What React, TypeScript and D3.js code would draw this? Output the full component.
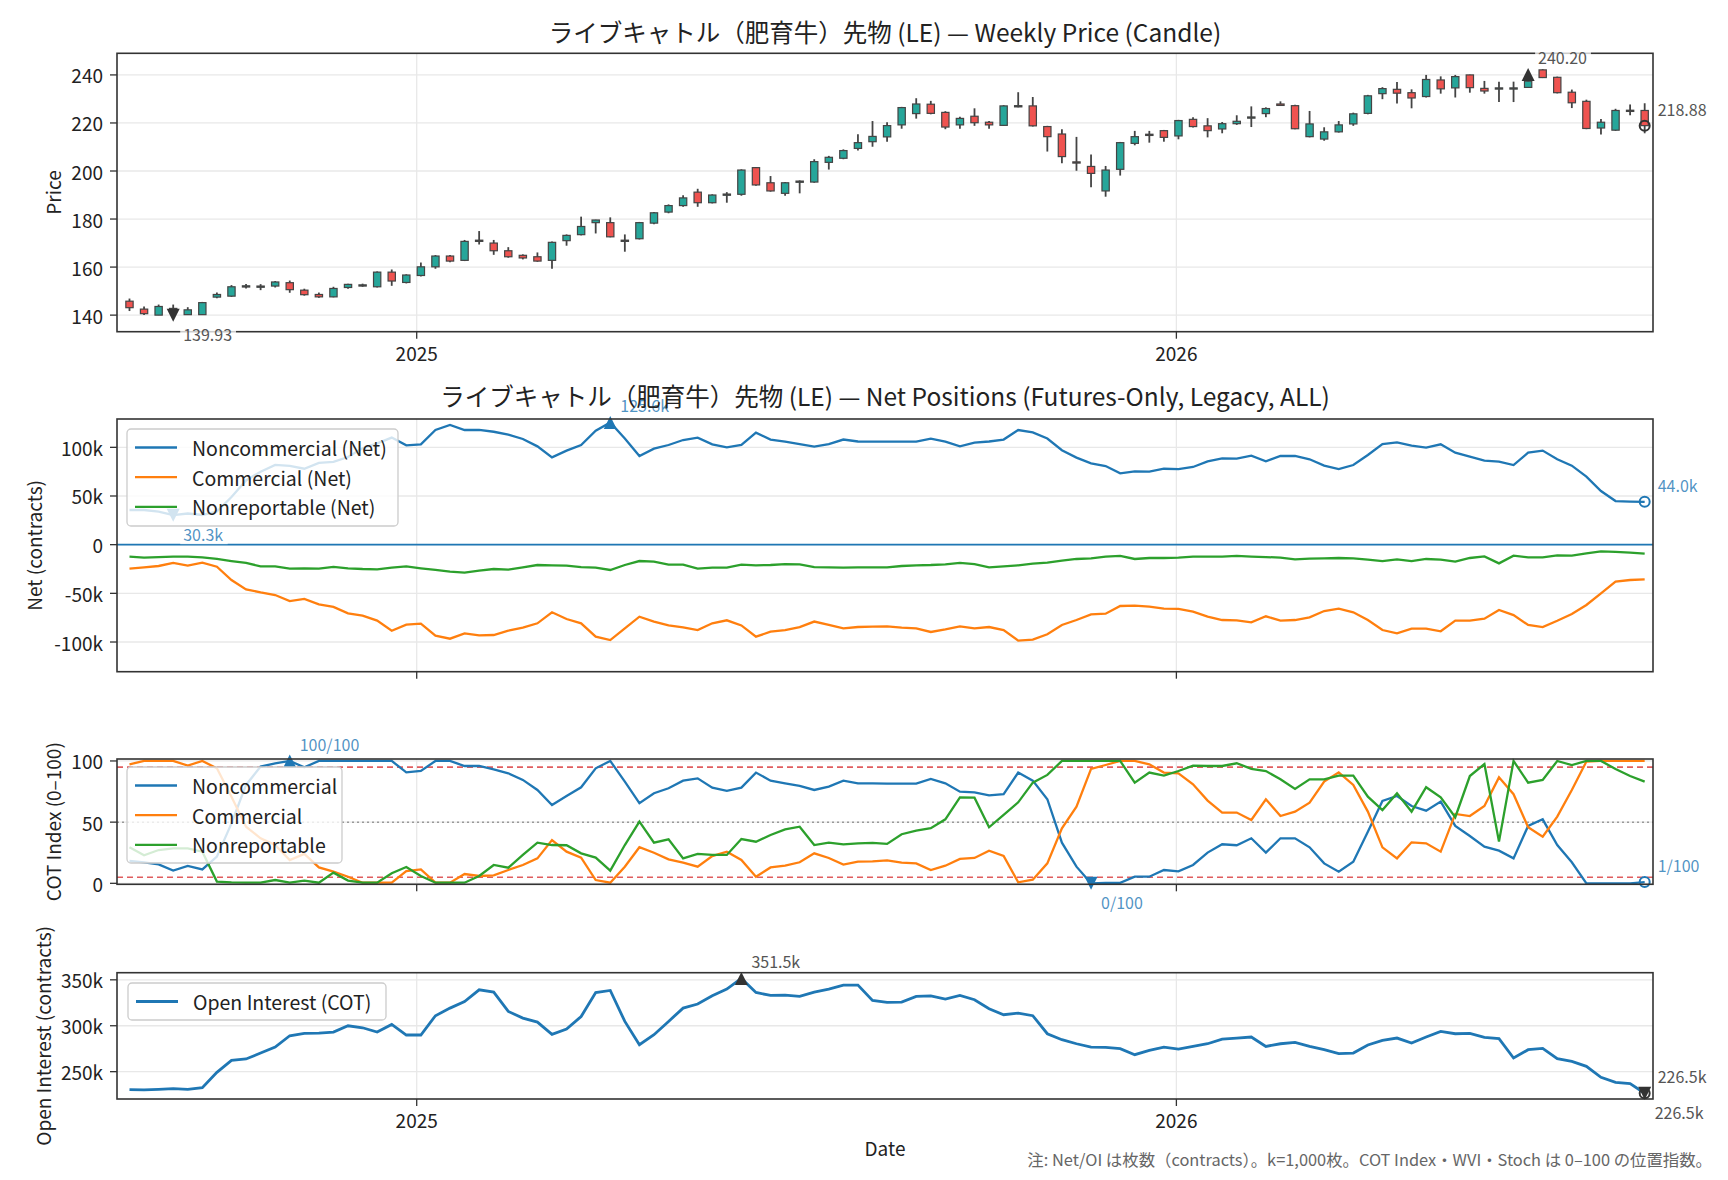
import React from 'react';
import * as d3 from 'd3';

const W = 1728;
const H = 1180;
const FONT = "'Noto Sans CJK JP', 'Noto Sans', sans-serif";

// weekly bars, first week ending 2024-08-16
const START = Date.UTC(2024, 7, 16);
const WEEK = 7 * 864e5;

const open = [145.8, 142.5, 140.0, 142.8, 140.2, 140.2, 147.5, 147.9, 152.0, 152.0,
  152.1, 153.5, 150.4, 148.6, 147.6, 151.5, 152.4, 151.8, 157.9, 153.6,
  156.5, 160.1, 164.6, 162.8, 170.8, 170.0, 166.8, 164.9, 164.3, 162.8,
  171.0, 173.5, 178.5, 178.5, 171.0, 171.8, 178.3, 182.9, 185.6, 191.2,
  186.8, 189.9, 190.3, 201.4, 195.1, 190.7, 195.6, 195.4, 203.6, 205.3,
  209.4, 212.2, 214.2, 219.2, 223.9, 227.8, 224.4, 219.2, 222.8, 220.3,
  219.0, 227.0, 227.1, 218.5, 215.4, 203.8, 201.9, 191.7, 200.7, 211.5,
  215.0, 216.8, 214.6, 221.5, 218.8, 217.5, 219.7, 222.3, 223.9, 227.9,
  227.2, 214.3, 213.3, 216.3, 219.6, 224.0, 232.2, 234.0, 232.6, 231.0,
  237.9, 234.6, 240.0, 234.4, 234.4, 234.5, 234.8, 242.1, 239.0, 232.8,
  229.0, 217.9, 217.0, 225.0, 225.2];
const high = [146.9, 143.6, 144.4, 144.4, 143.3, 145.5, 149.4, 152.5, 153.0, 152.9,
  154.2, 154.4, 151.0, 149.4, 151.8, 153.1, 153.1, 158.2, 159.0, 157.0,
  161.9, 165.0, 165.0, 171.3, 175.0, 171.3, 168.3, 165.3, 166.1, 170.7,
  173.6, 181.0, 179.7, 180.7, 173.6, 178.8, 182.9, 186.1, 189.9, 192.6,
  190.3, 191.2, 200.7, 201.7, 197.9, 195.4, 196.1, 204.9, 206.3, 209.0,
  215.3, 220.8, 220.3, 226.7, 230.3, 229.2, 224.9, 222.6, 226.1, 220.8,
  227.4, 232.8, 230.8, 218.8, 217.4, 214.2, 206.9, 202.1, 212.1, 216.7,
  216.7, 217.1, 221.3, 222.4, 222.0, 220.4, 223.2, 226.9, 226.5, 229.0,
  227.6, 225.0, 218.2, 220.8, 224.3, 231.7, 234.9, 237.1, 234.0, 240.0,
  239.4, 240.0, 240.1, 237.5, 237.2, 237.2, 240.2, 242.4, 239.3, 233.9,
  229.7, 221.6, 225.9, 227.7, 228.2];
const low = [141.7, 140.1, 140.0, 139.93, 140.1, 140.1, 147.0, 147.6, 151.1, 150.4,
  151.5, 149.3, 148.1, 147.2, 147.4, 151.0, 151.8, 151.5, 152.2, 153.2,
  156.1, 159.3, 162.0, 162.5, 169.4, 165.1, 163.9, 163.2, 162.2, 159.3,
  168.9, 173.2, 174.0, 172.4, 166.4, 171.5, 177.8, 182.4, 185.1, 185.1,
  186.5, 186.8, 189.7, 193.9, 191.4, 189.7, 190.7, 195.1, 200.6, 204.9,
  208.5, 210.1, 212.2, 217.6, 221.8, 223.6, 217.4, 217.6, 218.8, 217.6,
  218.8, 226.5, 218.5, 208.1, 203.2, 200.1, 193.2, 189.3, 198.1, 210.7,
  211.8, 212.2, 213.2, 218.1, 214.0, 215.7, 219.2, 218.3, 222.4, 227.2,
  217.4, 214.0, 212.6, 216.0, 218.8, 223.6, 229.9, 228.1, 226.1, 230.6,
  232.2, 230.6, 232.6, 232.2, 228.7, 228.7, 234.6, 238.7, 232.3, 226.2,
  217.4, 215.2, 216.7, 223.2, 215.7];
const close = [143.1, 140.6, 143.6, 141.4, 142.2, 145.2, 148.6, 151.8, 152.2, 152.1,
  153.8, 150.6, 148.5, 147.6, 151.1, 152.8, 152.6, 157.9, 154.2, 156.7,
  160.1, 164.6, 162.5, 170.7, 171.2, 166.8, 164.3, 163.8, 162.5, 170.3,
  173.2, 176.9, 179.6, 172.6, 171.2, 178.5, 182.6, 185.6, 188.8, 186.8,
  190.0, 190.4, 200.4, 194.2, 191.7, 195.1, 195.8, 203.9, 205.7, 208.5,
  211.8, 214.4, 218.9, 226.4, 227.9, 224.0, 218.3, 221.9, 220.1, 219.2,
  227.1, 227.2, 218.8, 214.3, 206.0, 203.4, 199.0, 200.4, 211.8, 214.3,
  215.3, 214.0, 221.0, 218.5, 216.8, 219.7, 220.7, 222.5, 226.0, 227.3,
  217.6, 219.6, 216.3, 219.2, 223.8, 231.3, 234.3, 232.4, 230.4, 238.1,
  234.2, 239.3, 234.7, 233.3, 234.6, 234.6, 237.4, 238.9, 232.6, 228.4,
  217.7, 220.3, 225.2, 225.3, 218.88];
// the annotated price extremes
const priceMin = { idx: 3, value: 139.93 };
const priceMax = { idx: 96, value: 240.2 };

// net positions, thousands of contracts
const ncNet = [35.6, 35.6, 34.0, 30.3, 32.0, 30.5, 34.0, 49.0, 66.0, 75.0,
  82.0, 81.0, 78.0, 84.0, 85.0, 90.0, 99.0, 104.0, 110.0, 102.0,
  103.0, 117.8, 123.0, 117.8, 118.0, 116.0, 113.0, 108.6, 101.0, 89.7,
  96.6, 102.4, 117.0, 125.6, 109.0, 91.0, 98.6, 102.4, 107.5, 110.0,
  103.0, 100.0, 102.4, 115.0, 108.0, 105.8, 103.4, 100.7, 103.4, 108.0,
  106.0, 105.8, 105.8, 105.8, 105.8, 109.0, 105.8, 101.0, 104.8, 106.0,
  108.0, 117.8, 115.4, 109.0, 97.0, 89.4, 83.6, 80.8, 73.3, 75.3,
  75.0, 78.0, 77.7, 79.8, 85.6, 88.7, 88.4, 91.4, 85.6, 91.1,
  91.1, 87.7, 81.2, 77.7, 81.8, 92.1, 103.4, 105.1, 101.7, 99.7,
  103.1, 94.5, 90.4, 86.3, 85.3, 81.8, 94.5, 96.6, 87.7, 81.2,
  69.9, 55.1, 44.8, 44.3, 44.0];
const cNet = [-24.7, -23.3, -21.9, -18.8, -21.6, -18.5, -22.6, -36.3, -45.9, -49.0,
  -51.7, -57.9, -55.8, -61.3, -64.0, -70.5, -73.0, -78.0, -88.4, -82.2,
  -81.2, -93.5, -96.6, -91.1, -93.2, -92.8, -88.4, -85.3, -80.8, -69.5,
  -76.4, -80.8, -94.5, -98.0, -86.0, -74.0, -79.0, -83.0, -85.0, -87.7,
  -80.8, -77.7, -83.0, -94.5, -89.4, -87.7, -84.6, -79.0, -82.5, -86.0,
  -84.6, -84.2, -83.9, -85.3, -86.0, -89.7, -87.0, -83.9, -86.0, -84.6,
  -87.7, -98.6, -97.6, -92.0, -82.5, -77.4, -71.6, -70.9, -63.0, -62.7,
  -63.7, -65.8, -66.0, -68.8, -74.0, -77.4, -77.7, -79.8, -73.6, -78.1,
  -77.4, -74.7, -68.2, -65.8, -69.5, -77.4, -87.7, -91.1, -86.3, -86.3,
  -89.0, -78.1, -78.1, -76.0, -67.1, -72.3, -82.5, -84.6, -78.1, -71.2,
  -62.0, -50.0, -38.0, -36.3, -35.6];
const nrNet = [-12.3, -13.4, -12.7, -12.3, -12.3, -13.0, -14.7, -16.8, -18.8, -22.3,
  -22.3, -24.7, -24.3, -24.7, -22.9, -24.3, -25.0, -25.3, -23.6, -22.3,
  -24.3, -26.0, -27.7, -28.8, -26.7, -25.0, -25.7, -23.3, -20.9, -21.2,
  -21.6, -23.0, -23.6, -26.0, -20.9, -16.8, -17.5, -20.5, -20.5, -24.7,
  -23.6, -23.6, -20.5, -21.2, -20.9, -19.9, -20.2, -23.0, -23.3, -23.6,
  -23.3, -23.3, -23.3, -21.9, -21.2, -20.9, -20.2, -18.8, -19.9, -23.3,
  -22.3, -21.2, -19.5, -18.5, -16.4, -14.7, -14.0, -12.3, -11.6, -14.7,
  -13.7, -13.7, -13.4, -12.3, -12.3, -12.3, -11.6, -12.3, -12.7, -13.4,
  -15.1, -14.4, -14.0, -13.7, -14.0, -15.4, -16.8, -15.1, -16.8, -14.7,
  -15.4, -17.5, -13.7, -12.0, -19.2, -11.3, -13.0, -13.0, -11.0, -11.3,
  -8.9, -6.8, -7.5, -8.2, -9.2];

// COT index 0-100
const ncIdx = [18.3, 17.2, 15.5, 10.4, 14.2, 11.4, 21.8, 49, 80.4, 95.4,
  98, 100, 94.8, 100, 100, 100, 100, 100, 100, 90.7,
  91.8, 100, 100, 95.9, 95.9, 93.2, 89.9, 84.5, 76.3, 64,
  71.4, 78.5, 94, 100, 83.1, 65.5, 73.6, 77.7, 83.9, 85.8,
  78.2, 75.5, 78.2, 90.5, 83.9, 81.7, 79.6, 76.3, 79, 83.9,
  81.7, 81.7, 81.5, 81.5, 81.5, 85.3, 81.7, 74.9, 74.4, 71.9,
  72.8, 90.5, 83.9, 68.7, 33.2, 13.6, 0, 0.4, 0.4, 5.4,
  5.4, 10.9, 9.8, 15, 25.1, 31.9, 31.1, 36.8, 25.1, 36.8,
  36.8, 29.4, 16.3, 9.5, 17.7, 42.2, 67.3, 71.4, 63.2, 59.4,
  66.8, 46.9, 38.7, 30, 26.7, 20.4, 46.9, 52.3, 31.3, 17.2,
  0, 0, 0, 0, 1];
const cIdx = [97.3, 100, 100, 100, 96.2, 100, 94, 70.8, 46.3, 36.8,
  31.3, 19, 24, 13, 9.5, 5.4, 0.5, 0.5, 0.5, 10,
  11.4, 0.5, 0.5, 7.6, 6, 6.5, 10.9, 15, 20.4, 35.4,
  25.9, 21, 2.7, 0.5, 13.6, 29.5, 25, 19.6, 16.9, 13.6,
  22.3, 25.9, 19.1, 5.4, 13, 14.4, 17.2, 24.5, 20.7, 15.3,
  17.7, 18, 18.8, 16.9, 16.3, 10.9, 14.4, 19.9, 20.7, 26.7,
  22.3, 0.8, 3, 16.3, 45, 62.7, 93.5, 96.7, 100, 100,
  97.3, 90.5, 89.9, 80.9, 67.6, 57.8, 57.8, 51.8, 68.7, 55,
  58.6, 65.9, 83.1, 90.7, 80.4, 58.6, 29.4, 20.4, 33.5, 32.7,
  25.9, 56.7, 55, 63.2, 86.6, 72.8, 45.8, 38.1, 54.5, 76.3,
  99.5, 100, 100, 100, 100];
const nrIdx = [29.4, 22.9, 27.2, 28.6, 28.6, 25.9, 1.4, 0.8, 0.5, 0.5,
  2.7, 0.5, 2.2, 0.5, 8.7, 2.2, 0.5, 0.5, 8.2, 13.4,
  6, 0.5, 0.5, 0.5, 6, 15, 12.8, 23.2, 33.2, 31.3,
  31.1, 24.5, 21, 10.4, 31.3, 50.4, 33.2, 35.9, 20.4, 24,
  23.2, 23.2, 36.2, 34, 39.5, 44.1, 46.3, 31.3, 33.2, 31.9,
  32.7, 33, 32.2, 40.1, 43.1, 45, 52.3, 70.3, 70, 45.8,
  55.9, 66.2, 82.3, 88.6, 100, 100, 100, 100, 100, 82.3,
  90.5, 88, 91.8, 96.2, 95.9, 95.9, 98.1, 93.5, 91.8, 85,
  77.1, 85, 85, 88, 88, 70.8, 59.9, 73.6, 58.6, 78.5,
  70.3, 54, 87.7, 97.5, 34.1, 100, 82.3, 84.5, 100, 96.7,
  100, 100, 93.5, 87.7, 83.1];

// open interest, thousands of contracts
const oi = [230.4, 230.1, 230.8, 231.5, 230.8, 232.6, 249.3, 262.3, 263.8, 270.3,
  276.8, 289.1, 291.7, 292.0, 293.1, 300.0, 297.8, 293.1, 301.4, 289.9,
  289.9, 310.9, 319.2, 326.4, 339.1, 336.6, 315.6, 308.3, 304.0, 290.6,
  296.4, 310.1, 336.2, 338.4, 304.7, 279.3, 290.2, 304.7, 319.2, 323.6,
  332.6, 339.9, 351.5, 336.2, 333.0, 333.3, 331.9, 336.6, 339.9, 344.2,
  344.2, 327.5, 325.4, 325.7, 331.9, 332.6, 329.0, 333.0, 328.3, 318.5,
  312.0, 313.8, 310.9, 291.3, 284.8, 280.4, 276.8, 276.4, 275.0, 268.5,
  273.2, 276.8, 274.6, 277.5, 280.4, 285.5, 286.6, 287.7, 277.5, 280.4,
  281.9, 277.5, 273.9, 269.6, 270.3, 279.0, 284.1, 286.6, 281.2, 287.7,
  293.8, 291.3, 291.7, 287.3, 285.9, 264.9, 273.9, 275.4, 264.1, 261.2,
  255.8, 243.8, 238.4, 237.0, 226.5];

const yearTicks = [2025, 2026];
const priceTicks = [140, 160, 180, 200, 220, 240];
const netTicks = [-100, -50, 0, 50, 100];
const idxTicks = [0, 50, 100];
const oiTicks = [250, 300, 350];

const C0 = '#1f77b4';
const C1 = '#ff7f0e';
const C2 = '#2ca02c';
const UP = '#26a69a';
const DOWN = '#ef5350';
const EDGE = '#444';
const INK = '#222';
const GRID = '#e8e8e8';

const dates = close.map((_, i) => new Date(START + i * WEEK));
const x = d3.scaleUtc()
  .domain([new Date(Date.UTC(2024, 7, 10)), new Date(Date.UTC(2026, 7, 18))])
  .range([117, 1653]);
const X0 = 117, X1 = 1653;

const yPrice = d3.scaleLinear().domain([133.1, 249.0]).range([331.7, 53.3]);
const yNet = d3.scaleLinear().domain([-130.5, 129.1]).range([671.7, 419]);
const yIdx = d3.scaleLinear().domain([-0.8, 101.6]).range([884.3, 759]);
const yOi = d3.scaleLinear().domain([220.25, 357.75]).range([1099, 972.7]);

const kFmt = (v: number) => (v === 0 ? '0' : `${v}k`);

function Frame({ y, ticks, fmt, label, labelX, xLabels }: any) {
  const [b, t] = y.range();
  return (
    <g>
      <rect x={X0} y={t} width={X1 - X0} height={b - t} fill="none" stroke="#333" strokeWidth={1.6} />
      {ticks.map((v: number) => (
        <g key={v}>
          <line x1={X0 - 7} x2={X0} y1={y(v)} y2={y(v)} stroke="#333" strokeWidth={1.3} />
          <text x={X0 - 14} y={y(v)} textAnchor="end" dominantBaseline="central" fontSize={19} fill={INK}>{fmt(v)}</text>
        </g>
      ))}
      {yearTicks.map(yr => {
        const px = x(new Date(Date.UTC(yr, 0, 1)));
        return (
          <g key={yr}>
            <line x1={px} x2={px} y1={b} y2={b + 7} stroke="#333" strokeWidth={1.3} />
            {xLabels && <text x={px} y={b + 29} textAnchor="middle" fontSize={19} fill={INK}>{yr}</text>}
          </g>
        );
      })}
      <text transform={`translate(${labelX},${(t + b) / 2}) rotate(-90)`} textAnchor="middle"
        dominantBaseline="central" fontSize={19} fill={INK}>{label}</text>
    </g>
  );
}

function Grid({ y, ticks }: any) {
  const [b, t] = y.range();
  return (
    <g>
      {ticks.map((v: number) => (
        <line key={v} x1={X0} x2={X1} y1={y(v)} y2={y(v)} stroke={GRID} strokeWidth={1.3} />
      ))}
      {yearTicks.map(yr => {
        const px = x(new Date(Date.UTC(yr, 0, 1)));
        return <line key={yr} x1={px} x2={px} y1={t} y2={b} stroke={GRID} strokeWidth={1.3} />;
      })}
    </g>
  );
}

function Legend({ bx, by, bw, bh, items, lw }: any) {
  return (
    <g>
      <rect x={bx} y={by} width={bw} height={bh} rx={4} fill="white" fillOpacity={0.8} stroke="#ccc" strokeWidth={1.3} />
      {items.map((it: any, i: number) => {
        const cy = by + 18.5 + i * 29.7;
        return (
          <g key={it.label}>
            <line x1={bx + 8} x2={bx + 50} y1={cy} y2={cy} stroke={it.color} strokeWidth={lw} />
            <text x={bx + 65} y={cy} dominantBaseline="central" fontSize={19.5} fill={INK}>{it.label}</text>
          </g>
        );
      })}
    </g>
  );
}

function Marker({ kind, px, py, color }: any) {
  if (kind === 'last') {
    return <circle cx={px} cy={py} r={5} fill="none" stroke={color} strokeWidth={2} />;
  }
  const h = 13, w = 6.5;
  const pts = kind === 'max'
    ? [[px, py - h / 2], [px - w, py + h / 2], [px + w, py + h / 2]]
    : [[px, py + h / 2], [px - w, py - h / 2], [px + w, py - h / 2]];
  return <polygon points={pts.map(p => p.join(',')).join(' ')} fill={color} />;
}

function Tag({ px, py, text, color, opacity = 1 }: any) {
  const w = text.length * 8.3 + 6;
  return (
    <g>
      <rect x={px - 3} y={py - 10} width={w} height={20} fill="white" fillOpacity={0.75} />
      <text x={px} y={py} dominantBaseline="central" fontSize={16} fill={color} fillOpacity={opacity}>{text}</text>
    </g>
  );
}

function Annot({ idx, value, y, kind, text, color, tagColor, tagOpacity }: any) {
  const px = x(dates[idx]);
  const py = y(value);
  const off = kind === 'min' ? { dx: 10, dy: 19 } : kind === 'max' ? { dx: 10, dy: -17 } : { dx: 13, dy: -17 };
  return (
    <g>
      <Marker kind={kind} px={px} py={py} color={color} />
      <Tag px={px + off.dx} py={py + off.dy} text={text} color={tagColor} opacity={tagOpacity} />
    </g>
  );
}

const App: React.FC = () => {
  const bw = 7.3;
  const netLine = (arr: number[]) => d3.line<number>().x((_, i) => x(dates[i])).y(v => yNet(v))(arr) || '';
  const idxLine = (arr: number[]) => d3.line<number>().x((_, i) => x(dates[i])).y(v => yIdx(v))(arr) || '';
  const oiLine = d3.line<number>().x((_, i) => x(dates[i])).y(v => yOi(v))(oi) || '';

  const last = close.length - 1;
  const ncMaxI = d3.maxIndex(ncNet), ncMinI = d3.minIndex(ncNet);
  const ixMaxI = d3.maxIndex(ncIdx), ixMinI = d3.minIndex(ncIdx);
  const oiMaxI = d3.maxIndex(oi), oiMinI = d3.minIndex(oi);
  const blue = '#1f77b4';

  return (
    <svg width={W} height={H} viewBox={`0 0 ${W} ${H}`}
      style={{ position: 'absolute', left: 0, top: 0, background: 'white', fontFamily: FONT }}>
      <rect width={W} height={H} fill="white" />

      {/* price candles */}
      <Grid y={yPrice} ticks={priceTicks} />
      {dates.map((d, i) => {
        const px = x(d);
        const up = close[i] >= open[i];
        const top = yPrice(Math.max(open[i], close[i]));
        const bot = yPrice(Math.min(open[i], close[i]));
        return (
          <g key={i}>
            <line x1={px} x2={px} y1={yPrice(high[i])} y2={yPrice(low[i])} stroke={EDGE} strokeWidth={1.8} />
            <rect x={px - bw / 2} y={top} width={bw} height={Math.max(bot - top, 1.2)}
              fill={up ? UP : DOWN} stroke={EDGE} strokeWidth={1.2} />
          </g>
        );
      })}
      <Frame y={yPrice} ticks={priceTicks} fmt={(v: number) => `${v}`} label="Price" labelX={52} xLabels />
      <Annot idx={priceMin.idx} value={priceMin.value} y={yPrice} kind="min" text={priceMin.value.toFixed(2)} color="#333" tagColor="#555" />
      <Annot idx={priceMax.idx} value={priceMax.value} y={yPrice} kind="max" text={priceMax.value.toFixed(2)} color="#333" tagColor="#555" />
      <Annot idx={last} value={close[last]} y={yPrice} kind="last" text={close[last].toFixed(2)} color="#333" tagColor="#555" />
      <text x={(X0 + X1) / 2} y={42} textAnchor="middle" fontSize={24.5} fill={INK}>
        ライブキャトル（肥育牛）先物 (LE) — Weekly Price (Candle)
      </text>

      {/* net positions */}
      <Grid y={yNet} ticks={netTicks} />
      <line x1={X0} x2={X1} y1={yNet(0)} y2={yNet(0)} stroke={C0} strokeWidth={1.6} />
      <path d={netLine(nrNet)} fill="none" stroke={C2} strokeWidth={2.3} />
      <path d={netLine(cNet)} fill="none" stroke={C1} strokeWidth={2.3} />
      <path d={netLine(ncNet)} fill="none" stroke={C0} strokeWidth={2.3} />
      <Annot idx={ncMaxI} value={ncNet[ncMaxI]} y={yNet} kind="max" text={`${ncNet[ncMaxI].toFixed(1)}k`} color={blue} tagColor={blue} tagOpacity={0.8} />
      <Annot idx={ncMinI} value={ncNet[ncMinI]} y={yNet} kind="min" text={`${ncNet[ncMinI].toFixed(1)}k`} color={blue} tagColor={blue} tagOpacity={0.8} />
      <Annot idx={last} value={ncNet[last]} y={yNet} kind="last" text={`${ncNet[last].toFixed(1)}k`} color={blue} tagColor={blue} tagOpacity={0.8} />
      <Legend bx={127} by={429} bw={271} bh={97} lw={2.3} items={[
        { label: 'Noncommercial (Net)', color: C0 },
        { label: 'Commercial (Net)', color: C1 },
        { label: 'Nonreportable (Net)', color: C2 },
      ]} />
      <Frame y={yNet} ticks={netTicks} fmt={kFmt} label="Net (contracts)" labelX={33} />
      <text x={(X0 + X1) / 2} y={406} textAnchor="middle" fontSize={24.5} fill={INK}>
        ライブキャトル（肥育牛）先物 (LE) — Net Positions (Futures-Only, Legacy, ALL)
      </text>

      {/* COT index */}
      <Grid y={yIdx} ticks={idxTicks} />
      <line x1={X0} x2={X1} y1={yIdx(95)} y2={yIdx(95)} stroke="#d62728" strokeOpacity={0.75} strokeWidth={1.6} strokeDasharray="6,4" />
      <line x1={X0} x2={X1} y1={yIdx(5)} y2={yIdx(5)} stroke="#d62728" strokeOpacity={0.75} strokeWidth={1.6} strokeDasharray="6,4" />
      <line x1={X0} x2={X1} y1={yIdx(50)} y2={yIdx(50)} stroke="#999" strokeWidth={1.5} strokeDasharray="2,3" />
      <path d={idxLine(ncIdx)} fill="none" stroke={C0} strokeWidth={2.3} />
      <path d={idxLine(cIdx)} fill="none" stroke={C1} strokeWidth={2.3} />
      <path d={idxLine(nrIdx)} fill="none" stroke={C2} strokeWidth={2.3} />
      <Annot idx={ixMaxI} value={ncIdx[ixMaxI]} y={yIdx} kind="max" text={`${Math.round(ncIdx[ixMaxI])}/100`} color={blue} tagColor={blue} tagOpacity={0.8} />
      <Annot idx={ixMinI} value={ncIdx[ixMinI]} y={yIdx} kind="min" text={`${Math.round(ncIdx[ixMinI])}/100`} color={blue} tagColor={blue} tagOpacity={0.8} />
      <Annot idx={last} value={ncIdx[last]} y={yIdx} kind="last" text={`${Math.round(ncIdx[last])}/100`} color={blue} tagColor={blue} tagOpacity={0.8} />
      <Legend bx={127} by={767} bw={215} bh={96} lw={2.3} items={[
        { label: 'Noncommercial', color: C0 },
        { label: 'Commercial', color: C1 },
        { label: 'Nonreportable', color: C2 },
      ]} />
      <Frame y={yIdx} ticks={idxTicks} fmt={(v: number) => `${v}`} label="COT Index (0–100)" labelX={52} />

      {/* open interest */}
      <Grid y={yOi} ticks={oiTicks} />
      <path d={oiLine} fill="none" stroke={C0} strokeWidth={2.8} />
      <Annot idx={oiMaxI} value={oi[oiMaxI]} y={yOi} kind="max" text={`${oi[oiMaxI].toFixed(1)}k`} color="#333" tagColor="#555" />
      <Annot idx={oiMinI} value={oi[oiMinI]} y={yOi} kind="min" text={`${oi[oiMinI].toFixed(1)}k`} color="#333" tagColor="#555" />
      <Annot idx={last} value={oi[last]} y={yOi} kind="last" text={`${oi[last].toFixed(1)}k`} color="#333" tagColor="#555" />
      <Legend bx={128} by={983} bw={258} bh={37} lw={2.8} items={[
        { label: 'Open Interest (COT)', color: C0 },
      ]} />
      <Frame y={yOi} ticks={oiTicks} fmt={kFmt} label="Open Interest (contracts)" labelX={42} xLabels />

      <text x={(X0 + X1) / 2} y={1156} textAnchor="middle" fontSize={19} fill={INK}>Date</text>
      <text x={1712} y={1166} textAnchor="end" fontSize={16.4} fill="#666">
        注: Net/OI は枚数（contracts）。k=1,000枚。COT Index・WVI・Stoch は 0–100 の位置指数。
      </text>
    </svg>
  );
};

export default App;
